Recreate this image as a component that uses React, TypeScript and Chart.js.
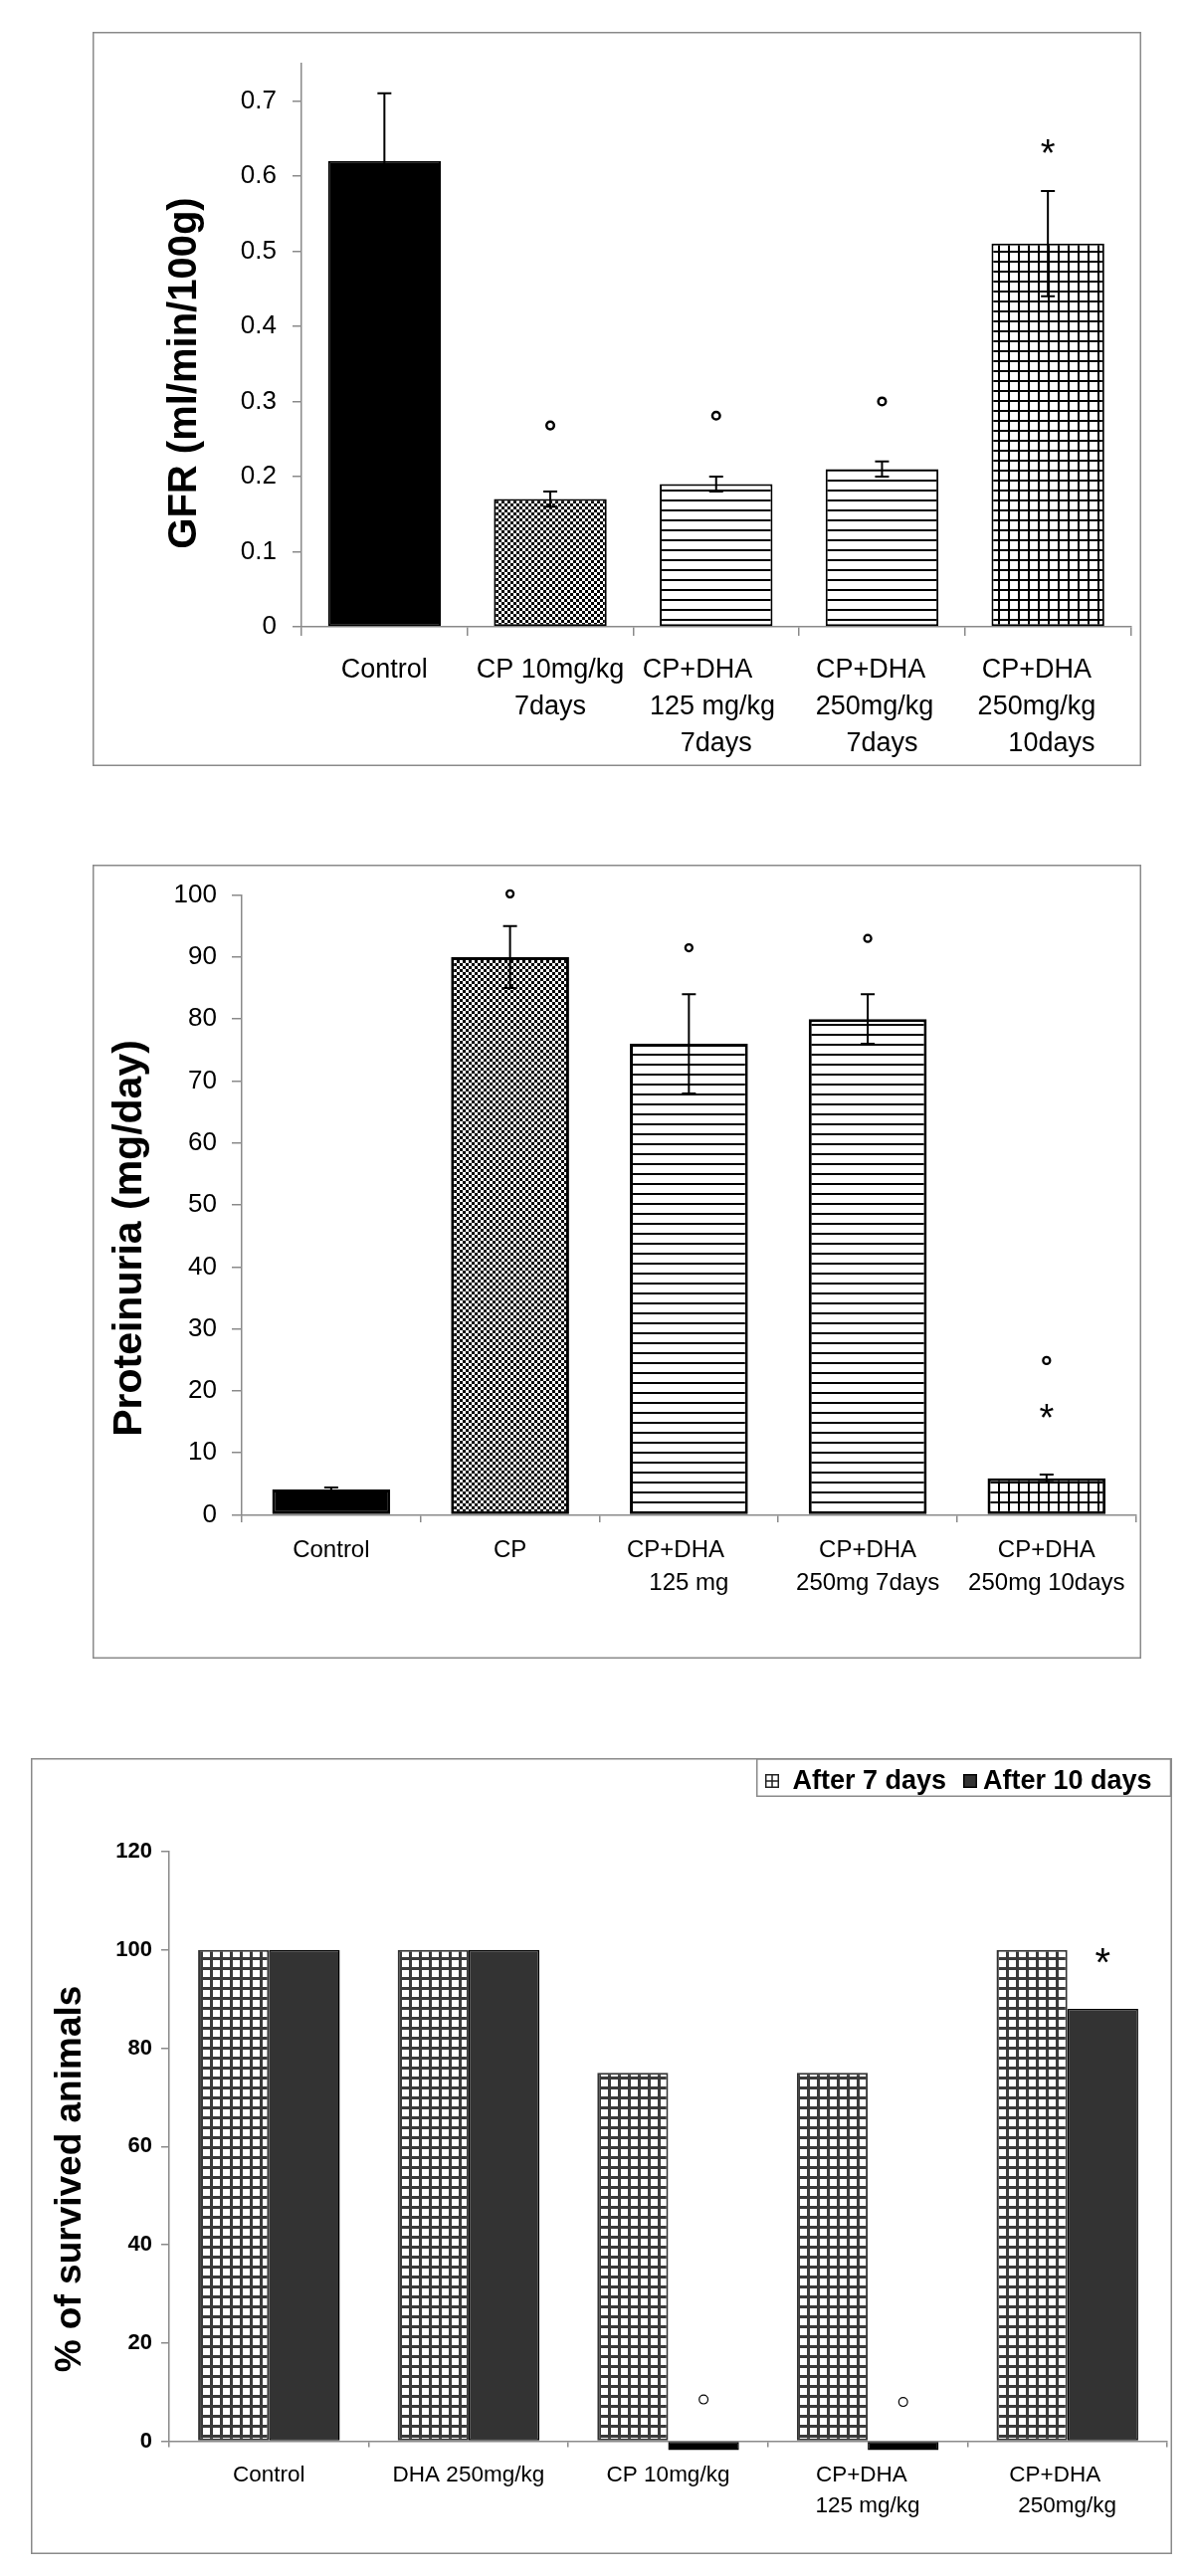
import React, { useEffect, useRef } from "react";
import { Chart, registerables } from "chart.js";

Chart.register(...registerables);

const FONT = "'Liberation Sans', Arial, Helvetica, sans-serif";
const AXIS = "#8a8a8a";
const FRAME = "#8a8a8a";

// ---------------- Chart 1: GFR ----------------
const gfrCategories = [
  ["Control"],
  ["CP 10mg/kg", "7days"],
  ["CP+DHA     ", "125 mg/kg ", "7days"],
  ["CP+DHA   ", "250mg/kg  ", "7days"],
  ["CP+DHA   ", "250mg/kg   ", " 10days"],
];
const gfrValues = [0.62, 0.17, 0.19, 0.21, 0.51];
const gfrErrors = [0.09, 0.01, 0.01, 0.01, 0.07];
const gfrCircleMarks = [null, 0.268, 0.281, 0.3, null];
const gfrStarMarks = [null, null, null, null, 0.643];
const gfrTickValues = [0, 0.1, 0.2, 0.3, 0.4, 0.5, 0.6, 0.7];
const gfrTickLabels = ["0", "0.1", "0.2", "0.3", "0.4", "0.5", "0.6", "0.7"];
const gfrAxisMax = 0.75;

// ---------------- Chart 2: Proteinuria ----------------
const proCategories = [
  ["Control"],
  ["CP"],
  ["CP+DHA    ", "125 mg"],
  ["CP+DHA", "250mg 7days"],
  ["CP+DHA", "250mg 10days"],
];
const proValues = [4.1, 90, 76, 80, 5.9];
const proErrors = [0.3, 5, 8, 4, 0.6];
const proCircleMarks = [null, 100.2, 91.5, 93, 24.9];
const proStarMarks = [null, null, null, null, 17.1];
const proTickValues = [0, 10, 20, 30, 40, 50, 60, 70, 80, 90, 100];
const proAxisMax = 100;

// ---------------- Chart 3: Survival ----------------
const survCategories = [
  ["Control"],
  ["DHA 250mg/kg"],
  ["CP 10mg/kg"],
  ["CP+DHA  ", "125 mg/kg"],
  ["CP+DHA    ", "250mg/kg"],
];
const survSeriesNames = ["After 7 days", "After 10 days"];
const survAfter7 = [100, 100, 75, 75, 100];
const survAfter10 = [100, 100, 0, 0, 88];
const survCircleMarks = [null, null, 8.5, 8, null];
const survStarMarks = [null, null, null, null, 99.4];
const survTickValues = [0, 20, 40, 60, 80, 100, 120];
const survAxisMax = 120;
const ZERO_BAR_DEPTH = 1.8; // depth of the black marker drawn for a zero value

type Marks = (number | null)[];

function makePattern(kind: string): CanvasPattern | string {
  const c = document.createElement("canvas");
  const g = c.getContext("2d");
  if (!g) return "#888";
  if (kind === "checker") {
    c.width = 6;
    c.height = 6;
    g.fillStyle = "#fff";
    g.fillRect(0, 0, 6, 6);
    g.fillStyle = "#000";
    g.fillRect(0, 0, 3, 3);
    g.fillRect(3, 3, 3, 3);
  } else if (kind === "hlines") {
    c.width = 10;
    c.height = 10;
    g.fillStyle = "#fff";
    g.fillRect(0, 0, 10, 10);
    g.fillStyle = "#000";
    g.fillRect(0, 0, 10, 2);
  } else if (kind === "grid") {
    c.width = 10;
    c.height = 10;
    g.fillStyle = "#fff";
    g.fillRect(0, 0, 10, 10);
    g.fillStyle = "#000";
    g.fillRect(0, 0, 10, 2);
    g.fillRect(0, 0, 2, 10);
  } else if (kind === "greygrid") {
    c.width = 10;
    c.height = 10;
    g.fillStyle = "#fff";
    g.fillRect(0, 0, 10, 10);
    g.fillStyle = "#3a3a3a";
    g.fillRect(0, 0, 10, 3);
    g.fillRect(0, 0, 3, 10);
  }
  return g.createPattern(c, "repeat") || "#888";
}

interface ExtraCfg {
  errors?: number[];
  errorCap: number;
  circles?: Marks;
  circleDs: number;
  circleR: number;
  circleLW: number;
  stars?: Marks;
  starDs: number;
  starSize: number;
  title: string;
  titleSize: number;
  titleX: number;
  titleY: number;
  legend?: boolean;
}

function extrasPlugin(cfg: ExtraCfg) {
  return {
    id: "extras",
    afterDatasetsDraw(chart: any) {
      const ctx: CanvasRenderingContext2D = chart.ctx;
      const ys = chart.scales.y;
      ctx.save();
      if (cfg.errors) {
        const meta = chart.getDatasetMeta(0);
        const vals = chart.data.datasets[0].data as number[];
        ctx.strokeStyle = "#000";
        ctx.lineWidth = 2;
        cfg.errors.forEach((e, i) => {
          const el = meta.data[i];
          if (!el) return;
          const x = el.x;
          const y1 = ys.getPixelForValue(vals[i] + e);
          const y2 = ys.getPixelForValue(vals[i] - e);
          const h = cfg.errorCap / 2;
          ctx.beginPath();
          ctx.moveTo(x, y1);
          ctx.lineTo(x, y2);
          ctx.moveTo(x - h, y1);
          ctx.lineTo(x + h, y1);
          ctx.moveTo(x - h, y2);
          ctx.lineTo(x + h, y2);
          ctx.stroke();
        });
      }
      if (cfg.circles) {
        const meta = chart.getDatasetMeta(cfg.circleDs);
        ctx.strokeStyle = "#000";
        ctx.lineWidth = cfg.circleLW;
        cfg.circles.forEach((v, i) => {
          if (v === null) return;
          const el = meta.data[i];
          if (!el) return;
          ctx.beginPath();
          ctx.arc(el.x, ys.getPixelForValue(v), cfg.circleR, 0, Math.PI * 2);
          ctx.stroke();
        });
      }
      if (cfg.stars) {
        const meta = chart.getDatasetMeta(cfg.starDs);
        ctx.fillStyle = "#000";
        ctx.font = `${cfg.starSize}px ${FONT}`;
        ctx.textAlign = "center";
        ctx.textBaseline = "alphabetic";
        cfg.stars.forEach((v, i) => {
          if (v === null) return;
          const el = meta.data[i];
          if (!el) return;
          ctx.fillText("*", el.x, ys.getPixelForValue(v) + cfg.starSize * 0.585);
        });
      }
      ctx.restore();
    },
    afterDraw(chart: any) {
      const ctx: CanvasRenderingContext2D = chart.ctx;
      const w = chart.width;
      const h = chart.height;
      ctx.save();
      // frame
      ctx.strokeStyle = FRAME;
      ctx.lineWidth = 1.5;
      ctx.strokeRect(0.75, 0.75, w - 1.5, h - 1.5);
      // y-axis title
      ctx.fillStyle = "#000";
      ctx.font = `bold ${cfg.titleSize}px ${FONT}`;
      ctx.textAlign = "center";
      ctx.textBaseline = "middle";
      ctx.translate(cfg.titleX, cfg.titleY);
      ctx.rotate(-Math.PI / 2);
      ctx.fillText(cfg.title, 0, 0);
      ctx.restore();

      if (cfg.legend) {
        const ds = chart.data.datasets;
        ctx.save();
        ctx.strokeStyle = FRAME;
        ctx.lineWidth = 1.5;
        ctx.strokeRect(729.75, 0.75, w - 1.5 - 729.75, 37.5);
        // swatch 1: grid box
        ctx.fillStyle = "#fff";
        ctx.fillRect(738, 16, 14, 14);
        ctx.strokeStyle = "#222";
        ctx.lineWidth = 1.5;
        ctx.strokeRect(738.75, 16.75, 12.5, 12.5);
        ctx.beginPath();
        ctx.moveTo(745, 17);
        ctx.lineTo(745, 29);
        ctx.moveTo(739, 23);
        ctx.lineTo(751, 23);
        ctx.stroke();
        // swatch 2: solid box
        ctx.fillStyle = "#333";
        ctx.fillRect(937, 16, 14, 14);
        ctx.strokeStyle = "#000";
        ctx.strokeRect(937.75, 16.75, 12.5, 12.5);
        ctx.fillStyle = "#000";
        ctx.font = `bold 27px ${FONT}`;
        ctx.textAlign = "left";
        ctx.textBaseline = "middle";
        ctx.fillText(ds[0].label, 765.5, 24);
        ctx.fillText(ds[1].label, 957, 24);
        ctx.restore();
      }
    },
  };
}

function axisCommon(tickLength: number) {
  return {
    grid: {
      drawOnChartArea: false,
      drawTicks: true,
      tickLength,
      color: AXIS,
      lineWidth: 1.5,
    },
    border: { display: true, color: AXIS, width: 1.5 },
  };
}

function makeGfr(): any {
  const checker = makePattern("checker");
  const hl = makePattern("hlines");
  const grid = makePattern("grid");
  return {
    type: "bar",
    data: {
      labels: gfrCategories,
      datasets: [
        {
          data: gfrValues,
          backgroundColor: ["#000", checker, hl, hl, grid],
          borderColor: "#000",
          borderWidth: 2,
          borderSkipped: false,
          barPercentage: 0.68,
          categoryPercentage: 1,
        },
      ],
    },
    options: {
      responsive: false,
      animation: false,
      layout: { padding: { left: 0, top: 27, right: 10.5, bottom: 0 } },
      plugins: { legend: { display: false }, tooltip: { enabled: false } },
      scales: {
        x: {
          ...axisCommon(9),
          ticks: {
            color: "#000",
            font: { family: FONT, size: 27, lineHeight: 37 / 27 },
            padding: 16,
            maxRotation: 0,
            autoSkip: false,
          },
          afterFit: (s: any) => {
            s.height = 140;
          },
        },
        y: {
          ...axisCommon(9),
          min: 0,
          max: gfrAxisMax,
          afterBuildTicks: (s: any) => {
            s.ticks = gfrTickValues.map((v) => ({ value: v }));
          },
          ticks: {
            color: "#000",
            font: { family: FONT, size: 26 },
            padding: 16,
            callback: (_v: any, i: number) => gfrTickLabels[i],
          },
          afterFit: (s: any) => {
            s.width = 210;
          },
        },
      },
    },
    plugins: [
      extrasPlugin({
        errors: gfrErrors,
        errorCap: 14,
        circles: gfrCircleMarks,
        circleDs: 0,
        circleR: 3.8,
        circleLW: 2.5,
        stars: gfrStarMarks,
        starDs: 0,
        starSize: 38,
        title: "GFR (ml/min/100g)",
        titleSize: 40,
        titleX: 93,
        titleY: 343,
      }),
    ],
  };
}

function makeProt(): any {
  const checker = makePattern("checker");
  const hl = makePattern("hlines");
  const grid = makePattern("grid");
  return {
    type: "bar",
    data: {
      labels: proCategories,
      datasets: [
        {
          data: proValues,
          backgroundColor: ["#000", checker, hl, hl, grid],
          borderColor: "#000",
          borderWidth: 3,
          borderSkipped: false,
          barPercentage: 0.66,
          categoryPercentage: 1,
        },
      ],
    },
    options: {
      responsive: false,
      animation: false,
      layout: { padding: { left: 0, top: 26, right: 5.3, bottom: 0 } },
      plugins: { legend: { display: false }, tooltip: { enabled: false } },
      scales: {
        x: {
          ...axisCommon(7.5),
          ticks: {
            color: "#000",
            font: { family: FONT, size: 24, lineHeight: 32.5 / 24 },
            padding: 12.5,
            maxRotation: 0,
            autoSkip: false,
          },
          afterFit: (s: any) => {
            s.height = 144.5;
          },
        },
        y: {
          ...axisCommon(10),
          min: 0,
          max: proAxisMax,
          afterBuildTicks: (s: any) => {
            s.ticks = proTickValues.map((v) => ({ value: v }));
          },
          ticks: {
            color: "#000",
            font: { family: FONT, size: 26 },
            padding: 15,
            callback: (_v: any, i: number) => String(proTickValues[i]),
          },
          afterFit: (s: any) => {
            s.width = 150;
          },
        },
      },
    },
    plugins: [
      extrasPlugin({
        errors: proErrors,
        errorCap: 14,
        circles: proCircleMarks,
        circleDs: 0,
        circleR: 3.5,
        circleLW: 2.3,
        stars: proStarMarks,
        starDs: 0,
        starSize: 38,
        title: "Proteinuria (mg/day)",
        titleSize: 41,
        titleX: 38,
        titleY: 375.5,
      }),
    ],
  };
}

function makeSurv(): any {
  const ggrid = makePattern("greygrid");
  return {
    type: "bar",
    data: {
      labels: survCategories,
      datasets: [
        {
          label: survSeriesNames[0],
          data: survAfter7,
          backgroundColor: ggrid,
          borderColor: "#333",
          borderWidth: 2,
          borderSkipped: false,
          barPercentage: 1,
          categoryPercentage: 0.71,
        },
        {
          label: survSeriesNames[1],
          data: survAfter10.map((v) => (v === 0 ? [-ZERO_BAR_DEPTH, 0] : v)),
          backgroundColor: survAfter10.map((v) => (v === 0 ? "#000" : "#333")),
          borderColor: "#000",
          borderWidth: 1.5,
          borderSkipped: false,
          barPercentage: 1,
          categoryPercentage: 0.71,
          clip: false,
        },
      ],
    },
    options: {
      responsive: false,
      animation: false,
      layout: { padding: { left: 0, top: 94, right: 5, bottom: 0 } },
      plugins: { legend: { display: false }, tooltip: { enabled: false } },
      scales: {
        x: {
          ...axisCommon(6),
          ticks: {
            color: "#000",
            font: { family: FONT, size: 22.5, lineHeight: 31 / 22.5 },
            padding: 12.4,
            maxRotation: 0,
            autoSkip: false,
          },
          afterFit: (s: any) => {
            s.height = 113.4;
          },
        },
        y: {
          ...axisCommon(8),
          min: 0,
          max: survAxisMax,
          afterBuildTicks: (s: any) => {
            s.ticks = survTickValues.map((v) => ({ value: v }));
          },
          ticks: {
            color: "#000",
            font: { family: FONT, size: 22, weight: "bold" },
            padding: 9,
            callback: (_v: any, i: number) => String(survTickValues[i]),
          },
          afterFit: (s: any) => {
            s.width = 139;
          },
        },
      },
    },
    plugins: [
      extrasPlugin({
        errorCap: 14,
        circles: survCircleMarks,
        circleDs: 1,
        circleR: 4.4,
        circleLW: 1.2,
        stars: survStarMarks,
        starDs: 1,
        starSize: 40,
        title: "% of survived animals",
        titleSize: 37,
        titleX: 39.5,
        titleY: 423,
        legend: true,
      }),
    ],
  };
}

function ChartBox(props: {
  left: number;
  top: number;
  width: number;
  height: number;
  make: () => any;
}) {
  const ref = useRef<HTMLCanvasElement | null>(null);
  useEffect(() => {
    if (!ref.current) return;
    const chart = new Chart(ref.current, props.make());
    return () => chart.destroy();
  }, []);
  return (
    <canvas
      ref={ref}
      width={props.width}
      height={props.height}
      style={{
        position: "absolute",
        left: props.left,
        top: props.top,
        width: props.width,
        height: props.height,
      }}
    />
  );
}

export default function App() {
  return (
    <div style={{ position: "relative", width: 1184, height: 2573, background: "#fff" }}>
      <ChartBox left={85} top={24} width={1054} height={738} make={makeGfr} />
      <ChartBox left={85} top={861} width={1054} height={798} make={makeProt} />
      <ChartBox left={23} top={1759} width={1147} height={800} make={makeSurv} />
    </div>
  );
}
